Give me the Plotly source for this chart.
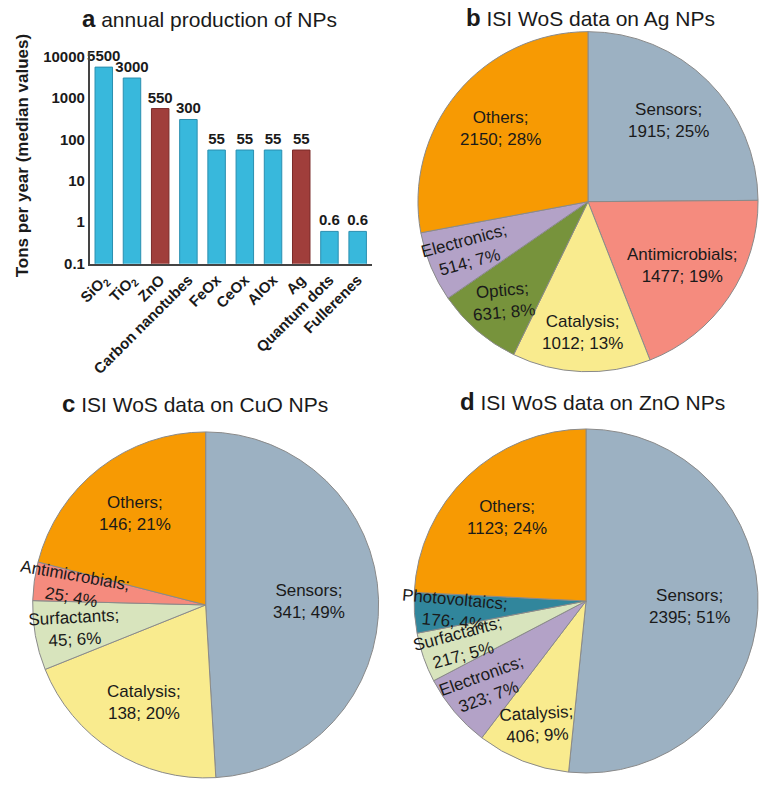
import numpy as np
import plotly.graph_objects as go

W, H = 761, 787
FONT = "Arial, Liberation Sans, sans-serif"

# ---- panel a: annual production of NPs
materials = ["SiO2", "TiO2", "ZnO", "Carbon nanotubes", "FeOx", "CeOx", "AlOx", "Ag", "Quantum dots", "Fullerenes"]
material_ticks = ["SiO<sub>2</sub>", "TiO<sub>2</sub>", "ZnO", "Carbon nanotubes", "FeOx", "CeOx", "AlOx", "Ag",
                  "Quantum dots", "Fullerenes"]
tons = [5500, 3000, 550, 300, 55, 55, 55, 55, 0.6, 0.6]
is_red = [False, False, True, False, False, False, False, True, False, False]

# ---- panel b: Ag NPs
ag_labels = ["Sensors", "Antimicrobials", "Catalysis", "Optics", "Electronics", "Others"]
ag_values = [1915, 1477, 1012, 631, 514, 2150]
ag_pct = [25, 19, 13, 8, 7, 28]

# ---- panel c: CuO NPs
cuo_labels = ["Sensors", "Catalysis", "Surfactants", "Antimicrobials", "Others"]
cuo_values = [341, 138, 45, 25, 146]
cuo_pct = [49, 20, 6, 4, 21]

# ---- panel d: ZnO NPs
zno_labels = ["Sensors", "Catalysis", "Electronics", "Surfactants", "Photovoltaics", "Others"]
zno_values = [2395, 406, 323, 217, 176, 1123]
zno_pct = [51, 9, 7, 5, 4, 24]

colors = {
    "Sensors": "#9cb1c2",
    "Antimicrobials": "#f58b7e",
    "Catalysis": "#f9eb8e",
    "Optics": "#77933c",
    "Electronics": "#b3a2c7",
    "Others": "#f79a03",
    "Surfactants": "#d8e4bd",
    "Photovoltaics": "#31869c",
}

# label tilt (deg) for the crowded small slices
tilt = {
    ("b", "Electronics"): -15, ("b", "Optics"): -5,
    ("c", "Antimicrobials"): 10, ("c", "Surfactants"): -3,
    ("d", "Photovoltaics"): 5, ("d", "Surfactants"): -15, ("d", "Electronics"): -20, ("d", "Catalysis"): -3,
}

fig = go.Figure()

fig.add_trace(go.Bar(
    x=materials, y=tons,
    marker=dict(color=["#a03e3b" if r else "#38b8dc" for r in is_red],
                line=dict(color=["#7a2a28" if r else "#2a8fb0" for r in is_red], width=1)),
    width=0.62,
    text=[f"{v:g}" for v in tons], textposition="outside", cliponaxis=False, constraintext="none",
    textfont=dict(family=FONT, size=15, color="#1a1a1a", weight="bold"),
    showlegend=False, hoverinfo="x+y",
))

fig.update_layout(
    xaxis=dict(domain=[78 / W, 365 / W], tickvals=materials, ticktext=material_ticks, tickangle=-45,
               showline=True, linecolor="#444", linewidth=1.5, ticks="", showgrid=False,
               tickfont=dict(family=FONT, size=15, color="#1a1a1a", weight="bold")),
    yaxis=dict(domain=[1 - 263 / H, 1 - 48 / H], type="log", range=[-1, 4.1],
               tickvals=[0.1, 1, 10, 100, 1000, 10000], ticktext=["0.1", "1", "10", "100", "1000", "10000"],
               showline=True, linecolor="#444", linewidth=1.5, ticks="", showgrid=False, zeroline=False,
               tickfont=dict(family=FONT, size=15, color="#1a1a1a", weight="bold")),
)


def pie_panel(key, labels, values, pct, cx, cy, r):
    fig.add_trace(go.Pie(
        labels=labels, values=values, sort=False, direction="clockwise", rotation=0,
        marker=dict(colors=[colors[l] for l in labels], line=dict(color="#8a8a8a", width=1)),
        textinfo="none", showlegend=False,
        domain=dict(x=[(cx - r) / W, (cx + r) / W], y=[1 - (cy + r) / H, 1 - (cy - r) / H]),
    ))
    total = float(sum(values))
    cum = 0.0
    for lab, v, p in zip(labels, values, pct):
        frac = v / total
        mid = (cum + frac / 2) * 2 * np.pi
        cum += frac
        k = 0.6 if frac > 0.3 else (0.67 if frac > 0.15 else 0.77)
        px = cx + k * r * np.sin(mid)
        py = cy - k * r * np.cos(mid)
        fig.add_annotation(x=px / W, y=1 - py / H, xref="paper", yref="paper",
                           xanchor="center", yanchor="middle",
                           text=f"{lab};<br>{v}; {p}%", showarrow=False,
                           textangle=tilt.get((key, lab), 0),
                           font=dict(family=FONT, size=17, color="#1a1a1a"))


pie_panel("b", ag_labels, ag_values, ag_pct, 585, 200, 173)
pie_panel("c", cuo_labels, cuo_values, cuo_pct, 196, 610, 176)
pie_panel("d", zno_labels, zno_values, zno_pct, 583, 606, 175)

titles = [
    ("a", "annual production of NPs", 200, 14),
    ("b", "ISI WoS data on Ag NPs", 588, 13),
    ("c", "ISI WoS data on CuO NPs", 185, 405),
    ("d", "ISI WoS data on ZnO NPs", 590, 403),
]
for letter, txt, x, y in titles:
    fig.add_annotation(x=x / W, y=1 - y / H, xref="paper", yref="paper", showarrow=False,
                       xanchor="center", yanchor="middle",
                       text=f"<b><span style='font-size:24px'>{letter}</span></b> {txt}",
                       font=dict(family=FONT, size=21, color="#1a1a1a"))

fig.add_annotation(x=10 / W, y=1 - 153 / H, xref="paper", yref="paper", showarrow=False, textangle=-90,
                   xanchor="center", yanchor="middle",
                   text="<b>Tons per year (median values)</b>",
                   font=dict(family=FONT, size=17, color="#1a1a1a"))

fig.update_layout(width=W, height=H, margin=dict(l=0, r=0, t=0, b=0),
                  paper_bgcolor="white", plot_bgcolor="white")

fig.write_html("out.html", config={"displayModeBar": False},
               post_script="document.body.style.margin='0';document.body.style.overflow='hidden';")
